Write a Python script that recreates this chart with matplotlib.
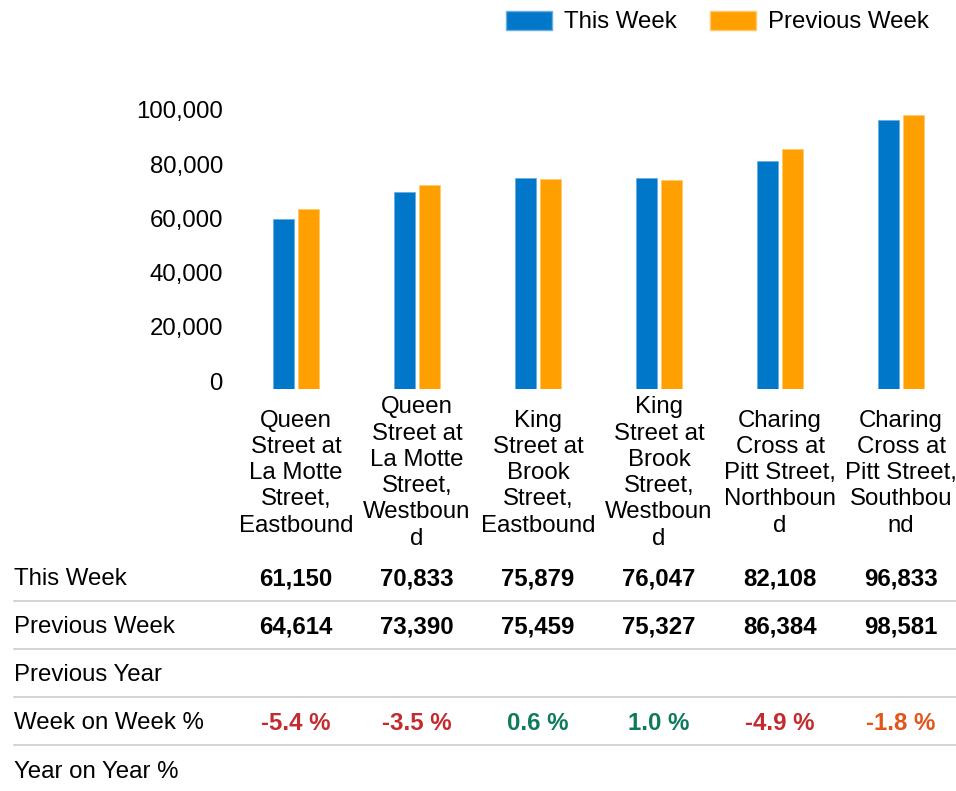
import numpy as np
import matplotlib
matplotlib.use("Agg")
import matplotlib.pyplot as plt
from matplotlib.patches import Patch
from matplotlib.ticker import FuncFormatter
import matplotlib.transforms as mtransforms

plt.rcParams['font.family'] = ['Liberation Sans', 'DejaVu Sans']

# data
locations = ["Queen\nStreet at\nLa Motte\nStreet,\nEastbound",
             "Queen\nStreet at\nLa Motte\nStreet,\nWestboun\nd",
             "King\nStreet at\nBrook\nStreet,\nEastbound",
             "King\nStreet at\nBrook\nStreet,\nWestboun\nd",
             "Charing\nCross at\nPitt Street,\nNorthboun\nd",
             "Charing\nCross at\nPitt Street,\nSouthbou\nnd"]
this_week = [61150, 70833, 75879, 76047, 82108, 96833]
previous_week = [64614, 73390, 75459, 75327, 86384, 98581]
week_on_week = [-5.4, -3.5, 0.6, 1.0, -4.9, -1.8]
row_names = ["This Week", "Previous Week", "Previous Year", "Week on Week %", "Year on Year %"]
yticks = [0, 20000, 40000, 60000, 80000, 100000]

blue = '#0077c8'
orange = '#ffa000'
fs = 17.3

W, H = 956, 791
fig = plt.figure(figsize=(W/100, H/100), dpi=100)

# bar axes, placed in pixel terms
L, R, T, B = 235.5, 955.5, 97, 389
ax = fig.add_axes([L/W, 1-B/H, (R-L)/W, (B-T)/H])
x = np.arange(len(locations))
bw = 0.167
ax.bar(x - 0.103, this_week, bw, color=blue, edgecolor='#6aaee0', linewidth=0.6)
ax.bar(x + 0.103, previous_week, bw, color=orange, edgecolor='#ffc870', linewidth=0.6)
ax.set_xlim(-0.5, 5.45)
ax.set_ylim(0, 105000)
ax.set_yticks(yticks)
ax.yaxis.set_major_formatter(FuncFormatter(lambda v, p: f"{int(v):,}"))
ax.tick_params(axis='y', length=0, pad=9, labelsize=fs)
ax.set_xticks([])
for s in ax.spines.values():
    s.set_visible(False)
# the tick labels sit a little tighter than the bars' scale
for lab, v in zip(ax.get_yticklabels(), yticks):
    off = (8 - 7 * v / 100000) / 100
    lab.set_transform(lab.get_transform() +
                      mtransforms.ScaledTranslation(0, off, fig.dpi_scale_trans))

trans = mtransforms.blended_transform_factory(ax.transData, fig.transFigure)

# category labels under the bars
for i, name in enumerate(locations):
    fig.text(x[i], 1-473/H, name, transform=trans, ha='center', va='center',
             fontsize=fs, linespacing=1.25)

# table under the chart
row_y = [579, 627, 675, 723, 772]
for name, ry in zip(row_names, row_y):
    fig.text(14/W, 1-ry/H, name, ha='left', va='center', fontsize=fs)
for i in range(len(locations)):
    fig.text(x[i], 1-row_y[0]/H, f"{this_week[i]:,}", transform=trans,
             ha='center', va='center', fontsize=fs, fontweight='bold')
    fig.text(x[i], 1-row_y[1]/H, f"{previous_week[i]:,}", transform=trans,
             ha='center', va='center', fontsize=fs, fontweight='bold')
    v = week_on_week[i]
    if v > 0:
        c = '#0d7a5c'
    elif v > -2:
        c = '#e0561b'
    else:
        c = '#c42b2f'
    fig.text(x[i], 1-row_y[3]/H, f"{v:.1f} %", transform=trans,
             ha='center', va='center', fontsize=fs, fontweight='bold', color=c)

for ly in [601, 649, 697, 745]:
    fig.add_artist(plt.Line2D([14/W, 1], [1-ly/H, 1-ly/H], transform=fig.transFigure,
                              color='#cccccc', linewidth=1.2))

handles = [Patch(facecolor=blue, edgecolor='#6aaee0', label='This Week'),
           Patch(facecolor=orange, edgecolor='#ffc870', label='Previous Week')]
fig.legend(handles=handles, loc='center right', bbox_to_anchor=(929/W, 1-22/H),
           ncol=2, frameon=False, fontsize=fs, borderpad=0, borderaxespad=0,
           handlelength=1.93, handleheight=0.86, handletextpad=0.5, columnspacing=1.36)

fig.savefig('out.png', dpi=100)
